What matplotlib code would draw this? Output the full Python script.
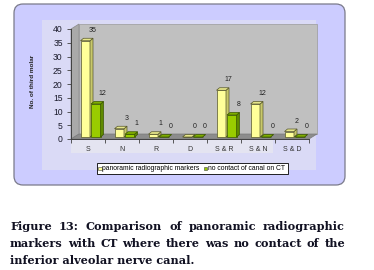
import matplotlib
matplotlib.use('Agg')
import matplotlib.pyplot as plt
from matplotlib.patches import Polygon, Rectangle, FancyBboxPatch

categories = ['S', 'N', 'R', 'D', 'S & R', 'S & N', 'S & D']
panoramic = [35, 3, 1, 0, 17, 12, 2]
no_contact = [12, 1, 0, 0, 8, 0, 0]
yticks = [0, 5, 10, 15, 20, 25, 30, 35, 40]
legend_labels = ['panoramic radiographic markers', 'no contact of canal on CT']
caption_lines = ['Figure 13: Comparison of panoramic radiographic',
                 'markers with CT where there was no contact of the',
                 'inferior alveolar nerve canal.']

W, H = 374, 270
fig = plt.figure(figsize=(W / 100, H / 100), dpi=100)

# background drawn in pixel coordinates
bg = fig.add_axes([0, 0, 1, 1], zorder=0)
bg.set_xlim(0, W)
bg.set_ylim(H, 0)
bg.axis('off')
bg.add_patch(FancyBboxPatch((14, 4), 331, 181, boxstyle='round,pad=0,rounding_size=9',
                            fc='#ccccff', ec='#7a7a8a', lw=0.9))
bg.add_patch(Rectangle((42, 20), 274, 150, fc='#dadaf6', ec='none'))
bg.add_patch(Rectangle((71, 139), 202, 14, fc='#e4e4f1', ec='none'))

# plot area: x from 71 to 309 px, y=0 at 139 px, y=40 at 29 px
x0, x1, yb, yt = 71, 309, 139, 29
ax = fig.add_axes([x0 / W, (H - yb) / H, (x1 - x0) / W, (yb - yt) / H], zorder=1)
ax.set_facecolor('none')
ax.set_xlim(-0.5, 6.5)
ax.set_ylim(0, 40)
px = (x1 - x0) / 7.0      # pixels per x unit
py = (yb - yt) / 40.0     # pixels per y unit

# 3d walls
wdx, wdy = 8 / px, 5 / py
ax.add_patch(Polygon([(-0.5 + wdx, wdy), (6.5 + wdx, wdy), (6.5 + wdx, 40 + wdy), (-0.5 + wdx, 40 + wdy)],
                     closed=True, fc='#c0c0c0', ec='#9a9a9a', lw=0.5, clip_on=False, zorder=0))
ax.add_patch(Polygon([(-0.5, 0), (-0.5, 40), (-0.5 + wdx, 40 + wdy), (-0.5 + wdx, wdy)],
                     closed=True, fc='#a9a9a9', ec='#8a8a8a', lw=0.5, clip_on=False, zorder=0))
ax.add_patch(Polygon([(-0.5, 0), (6.5, 0), (6.5 + wdx, wdy), (-0.5 + wdx, wdy)],
                     closed=True, fc='#8c8c8c', ec='#7a7a7a', lw=0.5, clip_on=False, zorder=0))

# bars with a small depth
bw = 9.5 / px
bdx, bdy = 3 / px, 2.5 / py
base = 2 / py
series = [(panoramic, -7.5 / px, '#ffff99', '#c8c86a', '#e6e68a', '#55552a'),
          (no_contact, 3 / px, '#99cc00', '#5f8a00', '#7fae00', '#3a5500')]
for vals, off, front, side, top, edge in series:
    for i, v in enumerate(vals):
        left = i + off
        ax.bar(left, v, bw, bottom=base, align='edge', color=front, edgecolor=edge, lw=0.5, zorder=3)
        t = base + v
        ax.add_patch(Polygon([(left + bw, base), (left + bw + bdx, base + bdy), (left + bw + bdx, t + bdy), (left + bw, t)],
                             closed=True, fc=side, ec=edge, lw=0.5, zorder=3))
        ax.add_patch(Polygon([(left, t), (left + bw, t), (left + bw + bdx, t + bdy), (left + bdx, t + bdy)],
                             closed=True, fc=top, ec=edge, lw=0.5, zorder=3))
        ax.annotate(str(v), (left + bw / 2, t), xytext=(5, 5), textcoords='offset points',
                    ha='center', va='bottom', fontsize=5, family='Liberation Sans', color='#222222')

for s in ['top', 'right']:
    ax.spines[s].set_visible(False)
ax.spines['left'].set_color('#404040')
ax.spines['bottom'].set_color('#404040')
ax.spines['left'].set_linewidth(0.7)
ax.spines['bottom'].set_linewidth(0.7)
ax.set_yticks(yticks)
ax.set_yticklabels([str(v) for v in yticks], fontsize=6.2, family='Liberation Sans', color='#1a1a2a')
ax.tick_params(axis='y', length=3, width=0.6, pad=3, color='#404040')
ax.set_xticks(range(len(categories)))
ax.set_xticklabels(categories, fontsize=5, family='Liberation Sans', color='#333333')
ax.set_xticks([i - 0.5 for i in range(8)], minor=True)
ax.tick_params(axis='x', which='major', length=0, pad=5)
ax.tick_params(axis='x', which='minor', length=3, width=0.6, color='#404040')

bg.text(33, 81, 'No. of third molar', rotation=90, ha='center', va='center',
        fontsize=4.6, fontweight='bold', family='Liberation Sans', color='#222222')

# legend
bg.add_patch(Rectangle((97, 163), 191, 11, fc='white', ec='black', lw=0.6, zorder=2))
bg.add_patch(Rectangle((98.5, 166.5), 3.5, 3.5, fc='#ffff99', ec='#444444', lw=0.4, zorder=3))
bg.text(102.5, 168.6, legend_labels[0], ha='left', va='center', fontsize=4.9,
        family='Liberation Sans', color='black', zorder=3)
bg.add_patch(Rectangle((204, 166.5), 3.5, 3.5, fc='#99cc00', ec='#444444', lw=0.4, zorder=3))
bg.text(208.5, 168.6, legend_labels[1], ha='left', va='center', fontsize=4.9,
        family='Liberation Sans', color='black', zorder=3)

# justified caption
renderer = fig.canvas.get_renderer()
cap_left, cap_right = 10, 345
baselines = [230.5, 247.3, 264]
cap_kw = dict(fontsize=8.1, fontweight='bold', family='DejaVu Serif', color='#111122', va='baseline')
for n, (line, yb_) in enumerate(zip(caption_lines, baselines)):
    words = line.split()
    if n == len(caption_lines) - 1:
        bg.text(cap_left, yb_, line, ha='left', **cap_kw)
        continue
    widths = []
    for w in words:
        t = bg.text(0, 0, w, **cap_kw)
        widths.append(t.get_window_extent(renderer).width)
        t.remove()
    gap = (cap_right - cap_left - sum(widths)) / (len(words) - 1)
    x = cap_left
    for w, wd in zip(words, widths):
        bg.text(x, yb_, w, ha='left', **cap_kw)
        x += wd + gap

fig.savefig('out.png', dpi=100)
